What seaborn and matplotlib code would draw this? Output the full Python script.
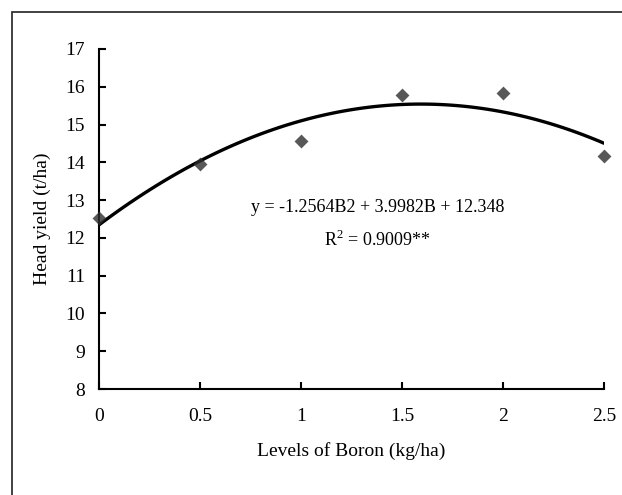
import matplotlib
matplotlib.use("Agg")
import matplotlib.pyplot as plt
import seaborn as sns
import pandas as pd
from matplotlib.patches import Rectangle

# Data
boron_levels = [0, 0.5, 1, 1.5, 2, 2.5]
head_yield = [12.53, 13.95, 14.57, 15.78, 15.84, 14.18]
x_ticks = [0, 0.5, 1, 1.5, 2, 2.5]
y_ticks = [8, 9, 10, 11, 12, 13, 14, 15, 16, 17]
equation = "y = -1.2564B2 + 3.9982B + 12.348"
r_squared = "R$^2$ = 0.9009**"

df = pd.DataFrame({"Boron": boron_levels, "Yield": head_yield})

sns.set_style("white")
plt.rcParams["font.family"] = ["Liberation Serif", "DejaVu Serif"]
plt.rcParams["mathtext.fontset"] = "custom"
plt.rcParams["mathtext.rm"] = "Liberation Serif"
plt.rcParams["text.color"] = "black"
plt.rcParams["axes.labelcolor"] = "black"
plt.rcParams["xtick.direction"] = "in"
plt.rcParams["ytick.direction"] = "in"

fig = plt.figure(figsize=(6.22, 4.95), dpi=100)
ax = fig.add_axes([99 / 622, 1 - 389 / 495, (604 - 99) / 622, (389 - 49) / 495])

# quadratic trendline fitted by seaborn
sns.regplot(data=df, x="Boron", y="Yield", order=2, ci=None, ax=ax,
            marker="D",
            scatter_kws={"color": "#2e2e2e", "s": 50, "zorder": 3,
                         "linewidths": 0},
            line_kws={"color": "black", "lw": 2.4})

ax.set_xlim(0, 2.5)
ax.set_ylim(8, 17)
ax.set_xticks(x_ticks)
ax.set_xticklabels(["0", "0.5", "1", "1.5", "2", "2.5"])
ax.set_yticks(y_ticks)
ax.tick_params(direction="in", length=5, width=1.5, labelsize=14,
               colors="black", left=True, bottom=True)
ax.tick_params(axis="y", pad=10)
ax.tick_params(axis="x", pad=14)
for side in ["left", "bottom"]:
    ax.spines[side].set_linewidth(1.5)
    ax.spines[side].set_color("black")
for side in ["right", "top"]:
    ax.spines[side].set_visible(False)
for coll in ax.collections:
    coll.set_clip_on(False)

ax.set_xlabel("Levels of Boron (kg/ha)", fontsize=14, labelpad=12)
ax.set_ylabel("Head yield (t/ha)", fontsize=14, labelpad=10)

ax.text(1.38, 12.8, equation, ha="center", va="center", fontsize=13)
ax.text(1.38, 11.95, r_squared, ha="center", va="center", fontsize=13)

# outer frame like the original figure box
fig.patches.append(Rectangle((12 / 622, -0.2), 1.2, 1.2 - 12 / 495,
                             transform=fig.transFigure, fill=False,
                             edgecolor="#333333", lw=1.3))

plt.savefig("out.png", dpi=100)
plt.close()
